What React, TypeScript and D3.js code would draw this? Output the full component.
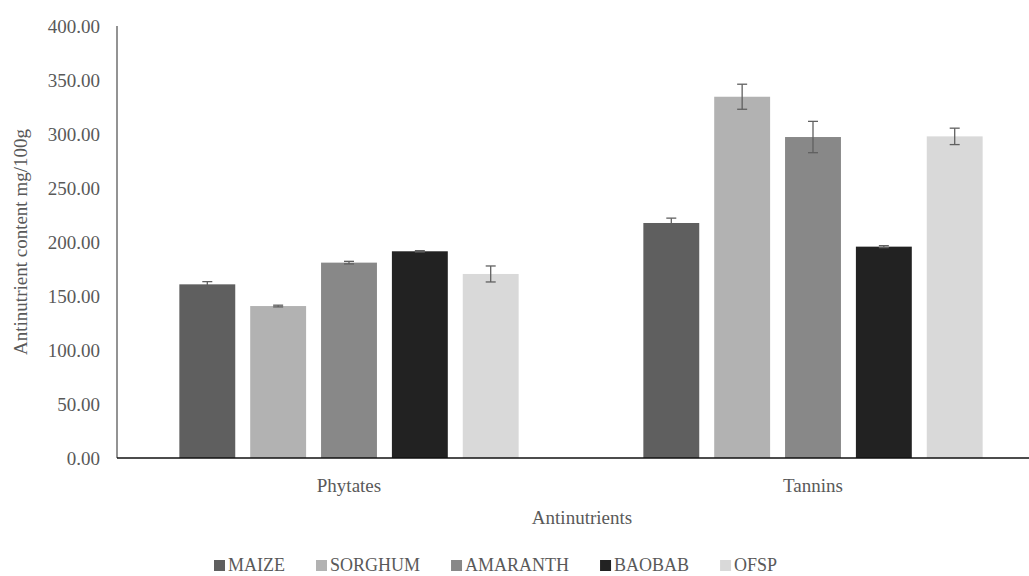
import React, { useEffect, useRef } from 'react';
import * as d3 from 'd3';

const W = 1029;
const H = 576;

const categories = ['Phytates', 'Tannins'];
const seriesNames = ['MAIZE', 'SORGHUM', 'AMARANTH', 'BAOBAB', 'OFSP'];
const seriesColors = ['#5f5f5f', '#b2b2b2', '#888888', '#222222', '#d9d9d9'];

// values per series: [Phytates, Tannins]
const maize = [160.8, 217.6];
const sorghum = [140.7, 334.5];
const amaranth = [180.9, 297.2];
const baobab = [191.4, 195.7];
const ofsp = [170.4, 297.8];

const maizeErr = [2.5, 4.5];
const sorghumErr = [0.8, 11.6];
const amaranthErr = [1.2, 14.5];
const baobabErr = [0.6, 0.9];
const ofspErr = [7.4, 7.6];

const yTicks = [0, 50, 100, 150, 200, 250, 300, 350, 400];

const values = [maize, sorghum, amaranth, baobab, ofsp];
const errors = [maizeErr, sorghumErr, amaranthErr, baobabErr, ofspErr];

const FONT = "Liberation Serif, Times New Roman, Times, DejaVu Serif, Noto Serif, serif";

export default function App() {
  const ref = useRef<SVGSVGElement>(null);

  useEffect(() => {
    if (!ref.current) return;
    const svg = d3.select(ref.current);
    svg.selectAll('*').remove();

    const left = 117;
    const top = 26;
    const bottom = 458;
    const right = 1045;

    const y = d3.scaleLinear().domain([0, 400]).range([bottom, top]);
    const x0 = d3.scaleBand().domain(categories).range([left, right]).paddingInner(0).paddingOuter(0);
    const x1 = d3.scaleBand<number>()
      .domain(d3.range(seriesNames.length))
      .range([0, x0.bandwidth()])
      .paddingInner(0.211)
      .paddingOuter(0.88);

    const txt = (sel: d3.Selection<any, any, any, any>, size: number) =>
      sel.attr('font-family', FONT).attr('font-size', size).attr('fill', '#595959');

    // y tick labels
    svg.append('g')
      .selectAll('text')
      .data(yTicks)
      .join('text')
      .attr('x', 100)
      .attr('y', (d) => y(d))
      .attr('dy', '0.35em')
      .attr('text-anchor', 'end')
      .call((s) => txt(s, 19))
      .text((d) => d.toFixed(2));

    // bars
    const groups = svg.append('g')
      .selectAll('g')
      .data(categories)
      .join('g')
      .attr('transform', (d) => `translate(${x0(d)},0)`);

    groups.selectAll('rect')
      .data((_, ci) => seriesNames.map((_, si) => ({ si, v: values[si][ci] })))
      .join('rect')
      .attr('x', (d) => x1(d.si)!)
      .attr('y', (d) => y(d.v))
      .attr('width', x1.bandwidth())
      .attr('height', (d) => bottom - y(d.v))
      .attr('fill', (d) => seriesColors[d.si]);

    // error bars
    const eb = groups.selectAll('g.err')
      .data((_, ci) => seriesNames.map((_, si) => ({ si, v: values[si][ci], e: errors[si][ci] })))
      .join('g')
      .attr('class', 'err')
      .attr('stroke', '#606060')
      .attr('stroke-width', 1.3);
    const cx = (d: { si: number }) => x1(d.si)! + x1.bandwidth() / 2;
    eb.append('line')
      .attr('x1', cx).attr('x2', cx)
      .attr('y1', (d) => y(d.v + d.e)).attr('y2', (d) => y(d.v - d.e));
    eb.append('line')
      .attr('x1', (d) => cx(d) - 5).attr('x2', (d) => cx(d) + 5)
      .attr('y1', (d) => y(d.v + d.e)).attr('y2', (d) => y(d.v + d.e));
    eb.append('line')
      .attr('x1', (d) => cx(d) - 5).attr('x2', (d) => cx(d) + 5)
      .attr('y1', (d) => y(d.v - d.e)).attr('y2', (d) => y(d.v - d.e));

    // axes lines
    svg.append('line')
      .attr('x1', left).attr('x2', left)
      .attr('y1', top).attr('y2', bottom)
      .attr('stroke', '#595959').attr('stroke-width', 1.3);
    svg.append('line')
      .attr('x1', left).attr('x2', W)
      .attr('y1', bottom).attr('y2', bottom)
      .attr('stroke', '#111').attr('stroke-width', 1.5);

    // category labels
    svg.append('g')
      .selectAll('text')
      .data(categories)
      .join('text')
      .attr('x', (d) => x0(d)! + x0.bandwidth() / 2)
      .attr('y', 492)
      .attr('text-anchor', 'middle')
      .call((s) => txt(s, 19))
      .text((d) => d);

    // axis titles
    svg.append('text')
      .attr('x', 582)
      .attr('y', 524)
      .attr('text-anchor', 'middle')
      .call((s) => txt(s, 19))
      .text('Antinutrients');

    svg.append('text')
      .attr('transform', `translate(27,242) rotate(-90)`)
      .attr('text-anchor', 'middle')
      .call((s) => txt(s, 19))
      .text('Antinutrient content mg/100g');

    // legend
    const legend = svg.append('g');
    let lx = 214;
    seriesNames.forEach((name, i) => {
      legend.append('rect')
        .attr('x', lx).attr('y', 560)
        .attr('width', 11).attr('height', 11)
        .attr('fill', seriesColors[i]);
      const t = legend.append('text')
        .attr('x', lx + 14)
        .attr('y', 571)
        .call((s) => txt(s, 18))
        .text(name);
      const w = (t.node() as SVGTextElement).getComputedTextLength();
      lx += 14 + w + 31;
    });
  }, []);

  return (
    <svg ref={ref} width={W} height={H} style={{ position: 'absolute', left: 0, top: 0, background: '#fff' }} />
  );
}
